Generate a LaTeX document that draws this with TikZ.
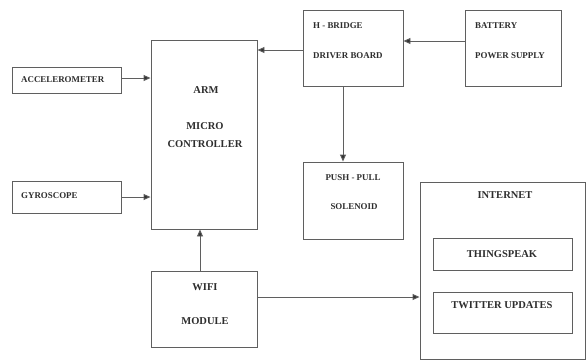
\documentclass[tikz,border=0pt]{standalone}
\usepackage{fontspec}
\setmainfont{Liberation Serif}
\usetikzlibrary{arrows.meta,fit}
\definecolor{linegray}{RGB}{95,95,95}
\definecolor{txtgray}{RGB}{45,45,45}
\tikzset{
  box/.style={draw=linegray, line width=0.9pt, inner sep=0pt},
  lbl/.style={inner sep=0pt, text=txtgray, font=\bfseries\fontsize{8.9}{10}\selectfont},
  biglbl/.style={inner sep=0pt, text=txtgray, font=\bfseries\fontsize{10.5}{12}\selectfont},
  conn/.style={draw=linegray, line width=0.9pt, -{Triangle[length=7pt,width=6pt,fill=black!80]}},
}
\begin{document}
\begin{tikzpicture}[x=1pt,y=-1pt]
\useasboundingbox (0,0) rectangle (587,360);
% boxes
\node[box, fit={(12,67) (121,93)}] (acc) {};
\node[box, fit={(12,181) (121,213)}] (gyro) {};
\node[box, fit={(151,40) (257,229)}] (arm) {};
\node[box, fit={(303,10) (403,86)}] (hb) {};
\node[box, fit={(465,10) (561,86)}] (bat) {};
\node[box, fit={(303,162) (403,239)}] (pp) {};
\node[box, fit={(151,271) (257,347)}] (wifi) {};
\node[box, fit={(420,182) (585,359)}] (inet) {};
\node[box, fit={(433,238) (572,270)}] (ts) {};
\node[box, fit={(433,292) (572,333)}] (tw) {};
% texts
\node[lbl, anchor=west] (tacc) at (21,80) {ACCELEROMETER};
\node[lbl, anchor=west] (tgyro) at (21,196) {GYROSCOPE};
\node[biglbl] (tarm1) at (206,90) {ARM};
\node[biglbl] (tarm2) at (205,126) {MICRO};
\node[biglbl] (tarm3) at (205,144) {CONTROLLER};
\node[lbl, anchor=west] (thb1) at (313,26) {H - BRIDGE};
\node[lbl, anchor=west] (thb2) at (313,56) {DRIVER BOARD};
\node[lbl, anchor=west] (tbat1) at (475,26) {BATTERY};
\node[lbl, anchor=west] (tbat2) at (475,56) {POWER SUPPLY};
\node[lbl] (tpp1) at (353,178) {PUSH - PULL};
\node[lbl] (tpp2) at (354,207) {SOLENOID};
\node[biglbl] (twifi1) at (205,287) {WIFI};
\node[biglbl] (twifi2) at (205,321) {MODULE};
\node[biglbl] (tinet) at (505,195) {INTERNET};
\node[biglbl] (tts) at (502,254) {THINGSPEAK};
\node[biglbl] (ttw) at (502,305) {TWITTER UPDATES};
% connectors
\draw[conn] ([yshift=2pt]acc.east) -- ([yshift=2pt]acc.east -| arm.west);
\draw[conn] (gyro.east) -- (gyro.east -| arm.west);
\draw[conn] ([yshift=-2pt]hb.west) -- ([yshift=-2pt]hb.west -| arm.east);
\draw[conn] ([yshift=7pt]bat.west) -- ([yshift=7pt]bat.west -| hb.east);
\draw[conn] ([xshift=-10pt]hb.south) -- ([xshift=-10pt]hb.south |- pp.north);
\draw[conn] ([xshift=-4pt]wifi.north) -- ([xshift=-4pt]wifi.north |- arm.south);
\draw[conn] ([yshift=12pt]wifi.east) -- ([yshift=12pt]wifi.east -| inet.west);
\end{tikzpicture}
\end{document}
